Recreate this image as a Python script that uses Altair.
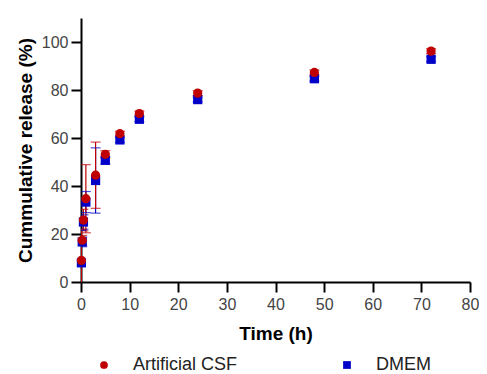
import altair as alt
import pandas as pd

time_h = [0.083, 0.25, 0.5, 1, 3, 5, 8, 12, 24, 48, 72]
csf_mean = [9.0, 17.4, 25.8, 34.7, 44.5, 53.2, 61.8, 70.2, 78.7, 87.3, 96.2]
csf_sd = [13.0, 2.0, 4.5, 14.2, 13.8, 1.5, 1.0, 1.0, 1.0, 1.0, 1.0]
dmem_mean = [8.0, 16.7, 25.0, 33.3, 42.3, 50.7, 59.2, 67.8, 76.0, 84.7, 92.8]
dmem_sd = [13.5, 2.0, 3.0, 4.4, 13.6, 1.5, 1.0, 1.0, 1.0, 1.0, 1.0]
series = ["Artificial CSF", "DMEM"]
colors = ["#C00000", "#0000C8"]
shapes = ["circle", "square"]

rows = []
for name, means, sds in [("DMEM", dmem_mean, dmem_sd), ("Artificial CSF", csf_mean, csf_sd)]:
    for t, m, s in zip(time_h, means, sds):
        rows.append({"time": t, "mean": m, "lo": m - s, "hi": m + s, "series": name})
df = pd.DataFrame(rows)

FONT = "Liberation Sans"

x = alt.X("time:Q", scale=alt.Scale(domain=[0, 80], nice=False, padding=0),
          axis=alt.Axis(values=list(range(0, 81, 10)), title="Time (h)", labelFlush=False))
y = alt.Y("mean:Q", scale=alt.Scale(domain=[0, 110], nice=False, padding=0),
          axis=alt.Axis(values=list(range(0, 101, 20)), title="Cummulative release (%)",
                        labelFlush=False))

legend = alt.Legend(title=None, orient="none", direction="horizontal",
                    legendX=14, legendY=338, columnPadding=100,
                    labelOffset=20, symbolSize=60, symbolOpacity=1, symbolStrokeWidth=0,
                    labelFontSize=18, labelColor="#222222", labelFont=FONT)
color = alt.Color("series:N", scale=alt.Scale(domain=series, range=colors), legend=legend)
shape = alt.Shape("series:N", scale=alt.Scale(domain=series, range=shapes), legend=legend)

base = alt.Chart(df)

rules = base.mark_rule(strokeWidth=1.2, clip=True).encode(
    x=x, y=alt.Y("lo:Q"), y2="hi:Q", color=color)
cap_lo = base.mark_tick(orient="horizontal", size=10, thickness=1.2, clip=True).encode(
    x=x, y=alt.Y("lo:Q"), color=color)
cap_hi = base.mark_tick(orient="horizontal", size=10, thickness=1.2, clip=True).encode(
    x=x, y=alt.Y("hi:Q"), color=color)

points = base.mark_point(filled=True, opacity=1, size=85).encode(
    x=x, y=y, color=color, shape=shape)

chart = alt.layer(rules, cap_lo, cap_hi, points).properties(
    width=389, height=264,
    autosize=alt.AutoSizeParams(type="none"),
    padding={"left": 73, "top": 10, "right": 9, "bottom": 92},
).configure_view(stroke=None).configure_axis(
    grid=False, domainColor="black", domainWidth=2, tickColor="black", tickWidth=2,
    tickSize=10, labelFont=FONT, labelFontSize=16, labelColor="#444444",
    titleFont=FONT, titleFontSize=19, titleFontWeight="bold", titleColor="black",
).configure_axisX(labelPadding=4, titlePadding=12).configure_axisY(labelPadding=3, titlePadding=6)

chart.save("out.html", embed_options={"renderer": "svg", "actions": False})
